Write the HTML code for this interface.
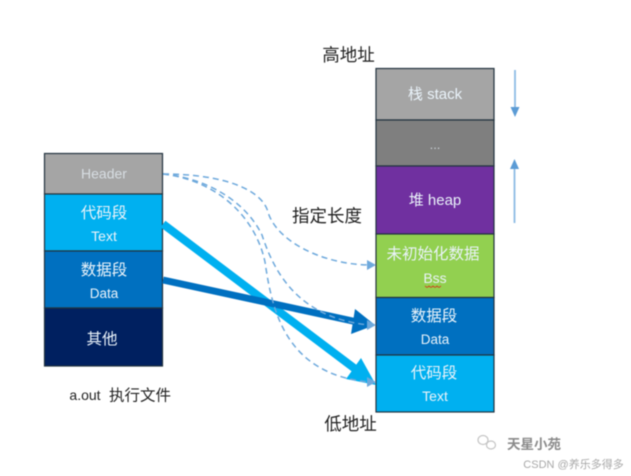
<!DOCTYPE html>
<html>
<head>
<meta charset="utf-8">
<style>
html,body{margin:0;padding:0;background:#fff}
body{width:631px;height:476px;overflow:hidden}
svg{display:block;filter:blur(.5px)}
text{font-family:"Liberation Sans","Noto Sans CJK SC",sans-serif;text-anchor:middle}
.w{fill:#eaf3fa}
.k{fill:#222}
</style>
</head>
<body>
<svg width="631" height="476" viewBox="0 0 631 476" xmlns="http://www.w3.org/2000/svg">
<g stroke="#22333f" stroke-width="1.2">
<rect x="44.5" y="153.5" width="118" height="40.5" fill="#a5a5a5"/>
<rect x="44.5" y="194" width="118" height="57" fill="#00b0f0"/>
<rect x="44.5" y="251" width="118" height="57" fill="#0070c0"/>
<rect x="44.5" y="308" width="118" height="58" fill="#002060"/>
<rect x="376" y="68.5" width="118" height="51.5" fill="#a5a5a5"/>
<rect x="376" y="120" width="118" height="46" fill="#7f7f7f"/>
<rect x="376" y="166" width="118" height="68" fill="#7030a0"/>
<rect x="376" y="234" width="118" height="63.5" fill="#92d050"/>
<rect x="376" y="297.5" width="118" height="57.5" fill="#0070c0"/>
<rect x="376" y="355" width="118" height="57" fill="#00b0f0"/>
</g>

<!-- solid arrows -->
<line x1="163" y1="224" x2="356" y2="369.5" stroke="#00b0f0" stroke-width="8"/>
<polygon points="361,358 376,385 346,379" fill="#00b0f0"/>
<line x1="163" y1="280" x2="355" y2="321.5" stroke="#0070c0" stroke-width="7"/>
<polygon points="355,309 375,325 351,334" fill="#0070c0"/>

<!-- dashed curves -->
<g fill="none" stroke="#6ea9dc" stroke-width="1.5" stroke-dasharray="6 4">
<path d="M163,174 C225,174 262,190 268,212 C276,240 320,264 369,265"/>
<path d="M163,174 C205,178 245,200 262,235 C275,275 300,318 369,325"/>
<path d="M163,174 C215,180 255,215 265,262 C272,310 285,374 369,382"/>
</g>
<g fill="#6ea9dc">
<polygon points="367,260 376,265 367,270"/>
<polygon points="367,320 376,325 367,330"/>
<polygon points="367,377 376,382 367,387"/>
</g>

<!-- side arrows -->
<g stroke="#8dbbe4" stroke-width="1.8" fill="none">
<line x1="515" y1="70" x2="515" y2="110"/>
<line x1="514.5" y1="165" x2="514.5" y2="223"/>
</g>
<polygon points="510.5,107 519.5,107 515,117" fill="#5b9bd5"/>
<polygon points="510,169 519,169 514.5,159" fill="#5b9bd5"/>

<!-- box labels -->
<text class="w" x="104" y="178.5" font-size="14" fill-opacity=".72">Header</text>
<text class="w" x="104" y="218" font-size="15.5">代码段</text>
<text class="w" x="104" y="241" font-size="14">Text</text>
<text class="w" x="104" y="275" font-size="15.5">数据段</text>
<text class="w" x="104" y="298" font-size="13.5">Data</text>
<text class="w" x="102" y="344" font-size="15.5">其他</text>

<text class="w" x="435" y="99" font-size="15">栈 stack</text>
<text class="w" x="435" y="149" font-size="13" fill-opacity=".7">...</text>
<text class="w" x="435" y="205" font-size="15">堆 heap</text>
<text class="w" x="433" y="259" font-size="15.5">未初始化数据</text>
<text class="w" x="435" y="283" font-size="14">Bss</text>
<path d="M425,286 l2,1.5 l2,-1.5 l2,1.5 l2,-1.5 l2,1.5 l2,-1.5 l2,1.5 l2,-1.5" fill="none" stroke="#d0401e" stroke-width=".8"/>
<text class="w" x="434" y="321" font-size="15.5">数据段</text>
<text class="w" x="435" y="344" font-size="13.5">Data</text>
<text class="w" x="434" y="378" font-size="15.5">代码段</text>
<text class="w" x="435" y="401" font-size="14">Text</text>

<!-- outer labels -->
<text class="k" x="348.5" y="61" font-size="17.5">高地址</text>
<text class="k" x="327" y="222" font-size="17.5">指定长度</text>
<text class="k" x="350.5" y="430" font-size="17.5">低地址</text>
<text class="k" x="85" y="400" font-size="14">a.out</text>
<text class="k" x="140" y="400.5" font-size="15.5">执行文件</text>

<!-- watermark -->
<g fill="none" stroke="#c4c4c4" stroke-width="1.2">
<ellipse cx="483" cy="440" rx="5" ry="4.5"/>
<ellipse cx="491" cy="445" rx="4.5" ry="4"/>
</g>
<text x="534" y="449" font-size="13.5" fill="#8a8a8a" font-weight="bold">天星小苑</text>
<text x="573.5" y="468" font-size="11" fill="#a8a8a8">CSDN @养乐多得多</text>
</svg>
</body>
</html>
